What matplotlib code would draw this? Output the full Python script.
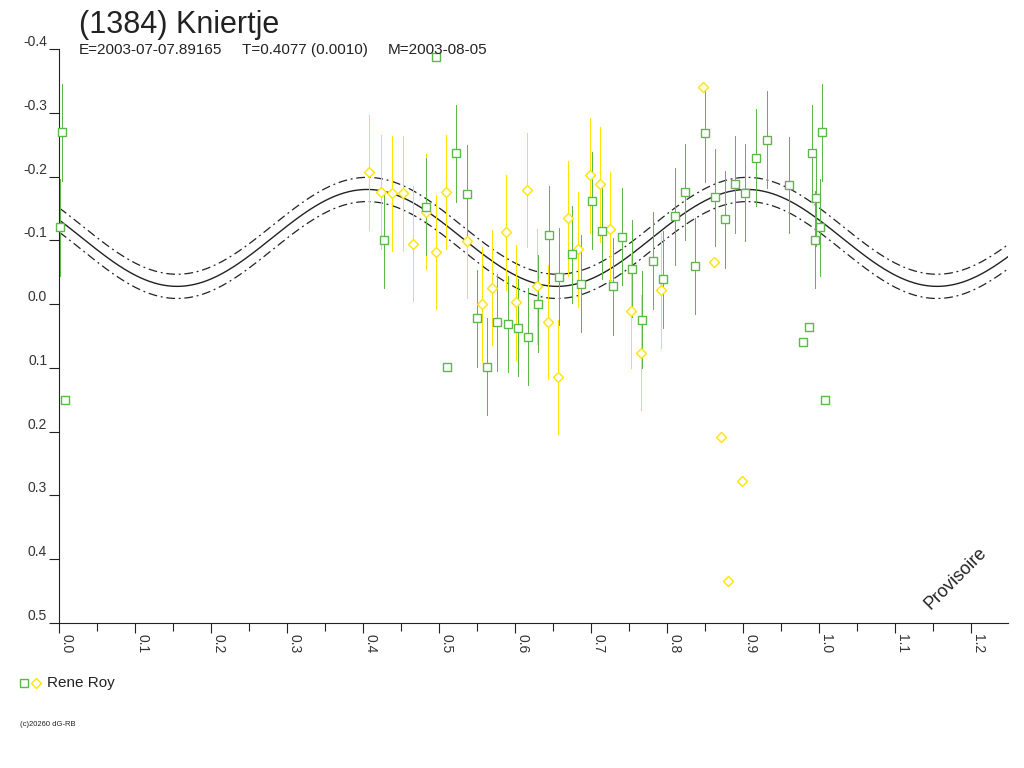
import matplotlib
matplotlib.use("Agg")
import matplotlib.pyplot as plt
import numpy as np
from matplotlib.lines import Line2D
from matplotlib.ticker import FixedLocator, FixedFormatter, MultipleLocator

plt.rcParams['font.family'] = ['Liberation Sans', 'DejaVu Sans']
plt.rcParams['axes.unicode_minus'] = False

TITLE = "(1384) Kniertje"
EPOCH_TEXT = "E=2003-07-07.89165"
PERIOD_TEXT = "T=0.4077 (0.0010)"
MEAN_TEXT = "M=2003-08-05"
OBSERVER = "Rene Roy"
WATERMARK = "Provisoire"
COPYRIGHT = "(c)20260 dG-RB"

# Rene Roy, squares (green)
sq_phase = [0.001, 0.004, 0.007, 0.427, 0.483, 0.496, 0.510, 0.522, 0.537,
            0.550, 0.563, 0.576, 0.590, 0.603, 0.617, 0.630, 0.644, 0.657,
            0.675, 0.686, 0.701, 0.714, 0.728, 0.740, 0.754, 0.767, 0.781,
            0.794, 0.810, 0.823, 0.836, 0.849, 0.863, 0.876, 0.889, 0.902,
            0.917, 0.931, 0.960, 0.979, 0.986, 0.991, 0.994, 0.996]
sq_mag = [-0.121, -0.270, 0.151, -0.100, -0.153, -0.388, 0.098, -0.237, -0.173,
          0.022, 0.098, 0.028, 0.031, 0.037, 0.051, -0.001, -0.109, -0.043,
          -0.078, -0.032, -0.162, -0.115, -0.028, -0.106, -0.056, 0.024, -0.068,
          -0.039, -0.138, -0.176, -0.060, -0.268, -0.168, -0.133, -0.188, -0.175,
          -0.230, -0.258, -0.187, 0.059, 0.036, -0.237, -0.101, -0.167]
sq_err = [0.076, 0.076, 0.0, 0.075, 0.076, 0.0, 0.0, 0.076, 0.076,
          0.076, 0.076, 0.076, 0.076, 0.076, 0.076, 0.076, 0.076, 0.076,
          0.076, 0.076, 0.076, 0.076, 0.076, 0.076, 0.076, 0.076, 0.076,
          0.076, 0.076, 0.076, 0.076, 0.076, 0.076, 0.076, 0.076, 0.076,
          0.076, 0.076, 0.076, 0.0, 0.0, 0.076, 0.076, 0.076]

# Rene Roy, diamonds (yellow)
dm_phase = [0.408, 0.423, 0.438, 0.452, 0.465, 0.482, 0.496, 0.509, 0.537,
            0.556, 0.569, 0.588, 0.601, 0.616, 0.629, 0.643, 0.656, 0.670,
            0.683, 0.698, 0.711, 0.725, 0.752, 0.765, 0.792, 0.847, 0.861,
            0.871, 0.880, 0.898]
dm_mag = [-0.207, -0.176, -0.174, -0.174, -0.095, -0.145, -0.082, -0.176, -0.099,
          0.000, -0.026, -0.113, -0.003, -0.179, -0.028, 0.028, 0.114, -0.135,
          -0.086, -0.202, -0.188, -0.118, 0.010, 0.076, -0.022, -0.341, -0.067,
          0.209, 0.434, 0.277]
dm_err = [0.090] * 25 + [0.0] * 5

# fitted lightcurve (two maxima per rotation)
model_mean = -0.104
model_amp = 0.076
model_peak_phase = 0.405
model_band = 0.019

x_ticks = [0.0, 0.1, 0.2, 0.3, 0.4, 0.5, 0.6, 0.7, 0.8, 0.9, 1.0, 1.1, 1.2]
x_ticklabels = ["0.0", "0.1", "0.2", "0.3", "0.4", "0.5", "0.6",
                "0.7", "0.8", "0.9", "1.0", "1.1", "1.2"]
y_ticks = [-0.4, -0.3, -0.2, -0.1, 0.0, 0.1, 0.2, 0.3, 0.4, 0.5]
y_ticklabels = ["-0.4", "-0.3", "-0.2", "-0.1", "0.0",
                "0.1", "0.2", "0.3", "0.4", "0.5"]

GREEN = "#5cb848"
YELLOW = "#ffe400"
INK = "#222222"
X_MAX = 1.2483


def repeat_phases(phase, mag, err):
    # points of the first quarter are shown again after phase 1
    p = np.array(phase)
    m = np.array(mag)
    e = np.array(err)
    extra = p + 1.0 <= X_MAX
    return (np.concatenate([p, p[extra] + 1.0]),
            np.concatenate([m, m[extra]]),
            np.concatenate([e, e[extra]]))


fig = plt.figure(figsize=(10.24, 7.68), dpi=100)
W, H = 1024, 768
ax = fig.add_axes([59.3 / W, (H - 623) / H, (1008 - 59.3) / W, (623 - 49.2) / H])

# model curve with its band
grid = np.linspace(0, X_MAX, 800)
curve = model_mean - model_amp * np.cos(4 * np.pi * (grid - model_peak_phase))
ax.plot(grid, curve, color=INK, lw=1.0, zorder=2)
for off in (-model_band, model_band):
    ax.plot(grid, curve + off, color=INK, lw=0.9,
            linestyle=(0, (7, 3, 1.5, 3)), zorder=2)

sx, sy, se = repeat_phases(sq_phase, sq_mag, sq_err)
dx, dy, de = repeat_phases(dm_phase, dm_mag, dm_err)

for x, y, e, col in ((dx, dy, de, YELLOW), (sx, sy, se, GREEN)):
    bars = ax.errorbar(x, y, yerr=e, fmt='none', ecolor=col, elinewidth=0.72,
                       capsize=0, zorder=3, clip_on=False)
    for coll in bars[2]:
        coll.set_antialiased(False)

ax.plot(dx, dy, 'D', ms=4.6, mfc='white', mec=YELLOW, mew=1.0,
        ls='none', zorder=4, clip_on=False)
ax.plot(sx, sy, 's', ms=5.2, mfc='white', mec=GREEN, mew=1.0,
        ls='none', zorder=4, clip_on=False)

ax.set_xlim(0, X_MAX)
ax.set_ylim(0.5, -0.4)

for side in ("top", "right"):
    ax.spines[side].set_visible(False)
for side in ("left", "bottom"):
    ax.spines[side].set_color(INK)
    ax.spines[side].set_linewidth(0.8)

ax.xaxis.set_major_locator(FixedLocator(x_ticks))
ax.xaxis.set_major_formatter(FixedFormatter(x_ticklabels))
ax.xaxis.set_minor_locator(MultipleLocator(0.05))
ax.yaxis.set_major_locator(FixedLocator(y_ticks))
ax.yaxis.set_major_formatter(FixedFormatter(y_ticklabels))

ax.tick_params(axis='x', which='major', direction='out', length=7.2, width=0.8,
               color=INK, pad=0.5, labelsize=10, labelcolor="#333333",
               labelrotation=-90)
ax.tick_params(axis='x', which='minor', direction='out', length=6, width=0.8,
               color=INK)
ax.tick_params(axis='y', which='major', direction='out', length=7.2, width=0.8,
               color=INK, pad=1.5, labelsize=10, labelcolor="#333333")
for lab in ax.get_xticklabels():
    lab.set_ha('left')
for lab in ax.get_yticklabels():
    lab.set_va('bottom')

# header texts
fig.text(79 / W, 1 - 33 / H, TITLE, fontsize=22, color=INK, va='baseline')
fig.text(79 / W, 1 - 54 / H, EPOCH_TEXT, fontsize=11, color=INK, va='baseline')
fig.text(242 / W, 1 - 54 / H, PERIOD_TEXT, fontsize=11, color=INK, va='baseline')
fig.text(388 / W, 1 - 54 / H, MEAN_TEXT, fontsize=11, color=INK, va='baseline')

fig.text(956 / W, 1 - 578 / H, WATERMARK, fontsize=13, color=INK,
         rotation=45, ha='center', va='center')

# legend
fig.add_artist(Line2D([24 / W], [1 - 683 / H], transform=fig.transFigure,
                      marker='s', ms=5.2, mfc='white', mec=GREEN, mew=1.0))
fig.add_artist(Line2D([36 / W], [1 - 683 / H], transform=fig.transFigure,
                      marker='D', ms=4.6, mfc='white', mec=YELLOW, mew=1.0))
fig.text(47 / W, 1 - 683 / H, OBSERVER, fontsize=11, color=INK, va='center')

fig.text(20 / W, 1 - 724 / H, COPYRIGHT, fontsize=5.5, color=INK, va='center')

fig.savefig("out.png", dpi=100)
plt.close(fig)
